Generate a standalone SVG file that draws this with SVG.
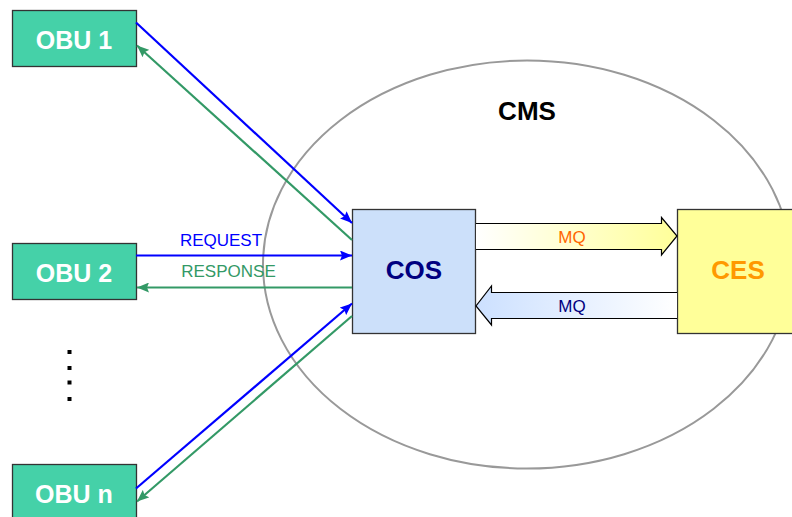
<svg xmlns="http://www.w3.org/2000/svg" width="792" height="517" viewBox="0 0 792 517">
  <style>
    .obu rect { fill: #45d1a8; stroke: #333; stroke-width: 1.3; }
    .obu text { font-family: "Liberation Sans", Arial, sans-serif; font-weight: bold; font-size: 25px; fill: #fff; text-anchor: middle; }
    .big { font-family: "Liberation Sans", Arial, sans-serif; font-weight: bold; font-size: 26px; text-anchor: middle; }
    .lbl { font-family: "Liberation Sans", Arial, sans-serif; font-size: 17px; text-anchor: middle; }
    .req { stroke: #0000ff; stroke-width: 2.2; fill: none; marker-end: url(#ah-blue); }
    .resp { stroke: #339966; stroke-width: 2.2; fill: none; marker-end: url(#ah-green); }
  </style>
  <defs>
    <marker id="ah-blue" viewBox="0 0 12 10" refX="12" refY="5" markerWidth="13" markerHeight="10" markerUnits="userSpaceOnUse" orient="auto">
      <path d="M0,0 L12,5 L0,10 L2,5 z" fill="#0000ff"/>
    </marker>
    <marker id="ah-green" viewBox="0 0 12 10" refX="12" refY="5" markerWidth="13" markerHeight="10" markerUnits="userSpaceOnUse" orient="auto">
      <path d="M0,0 L12,5 L0,10 L2,5 z" fill="#339966"/>
    </marker>
    <linearGradient id="g-yellow" x1="0" y1="0" x2="1" y2="0">
      <stop offset="0" stop-color="#ffffff"/>
      <stop offset="1" stop-color="#ffff99"/>
    </linearGradient>
    <linearGradient id="g-blue" x1="0" y1="0" x2="1" y2="0">
      <stop offset="0" stop-color="#cce0ff"/>
      <stop offset="1" stop-color="#ffffff"/>
    </linearGradient>
  </defs>

  <!-- CMS boundary -->
  <g id="cms">
    <ellipse cx="527" cy="264.5" rx="264" ry="204" fill="none" stroke="#999" stroke-width="2"/>
    <text class="big" x="527" y="120" fill="#000">CMS</text>
  </g>

  <!-- ellipsis between OBU 2 and OBU n -->
  <g id="dots" fill="#000">
    <rect x="67.5" y="350" width="4" height="4"/>
    <rect x="67.5" y="366" width="4" height="4"/>
    <rect x="67.5" y="380.5" width="4" height="4"/>
    <rect x="67.5" y="397" width="4" height="4"/>
  </g>

  <g id="obu1" class="obu">
    <rect x="12.5" y="10.5" width="124" height="56"/>
    <text x="74" y="49">OBU 1</text>
  </g>
  <g id="obu2" class="obu">
    <rect x="12.5" y="243.5" width="124" height="56"/>
    <text x="74" y="282">OBU 2</text>
  </g>
  <g id="obun" class="obu">
    <rect x="12.5" y="464.5" width="124" height="60"/>
    <text x="74" y="503">OBU n</text>
  </g>

  <g id="cos">
    <rect x="352.5" y="209.5" width="123" height="124" fill="#cce0fa" stroke="#333" stroke-width="1.3"/>
    <text class="big" x="414" y="279" fill="#000080">COS</text>
  </g>

  <g id="ces">
    <rect x="677.5" y="209.5" width="130" height="124" fill="#ffff99" stroke="#333" stroke-width="1.3"/>
    <text class="big" x="738" y="279" fill="#ff9900">CES</text>
  </g>

  <!-- connectors -->
  <g id="connectors">
    <line class="req" x1="136" y1="22.5" x2="352" y2="223"/>
    <line class="resp" x1="352" y1="240" x2="137" y2="45.5"/>
    <line class="req" x1="136" y1="255.5" x2="352" y2="255.5"/>
    <line class="resp" x1="352" y1="287.5" x2="137" y2="287.5"/>
    <line class="req" x1="136" y1="488.5" x2="352" y2="303.5"/>
    <line class="resp" x1="352" y1="316" x2="137" y2="501.5"/>
    <text class="lbl" x="221" y="246" fill="#0000ff">REQUEST</text>
    <text class="lbl" x="228.5" y="277" fill="#339966">RESPONSE</text>

    <!-- message queue, COS to CES -->
    <path d="M476,223.5 H661.5 V217.5 L677,236 L661.5,255 V249.5 H476" fill="url(#g-yellow)" stroke="#000" stroke-width="1.2"/>
    <text class="lbl" x="572" y="243" fill="#ff6600">MQ</text>
    <!-- message queue, CES to COS -->
    <path d="M677,292.5 H491.5 V286 L476,306 L491.5,325 V318.5 H677" fill="url(#g-blue)" stroke="#000" stroke-width="1.2"/>
    <text class="lbl" x="572" y="312" fill="#000080">MQ</text>
  </g>
</svg>
